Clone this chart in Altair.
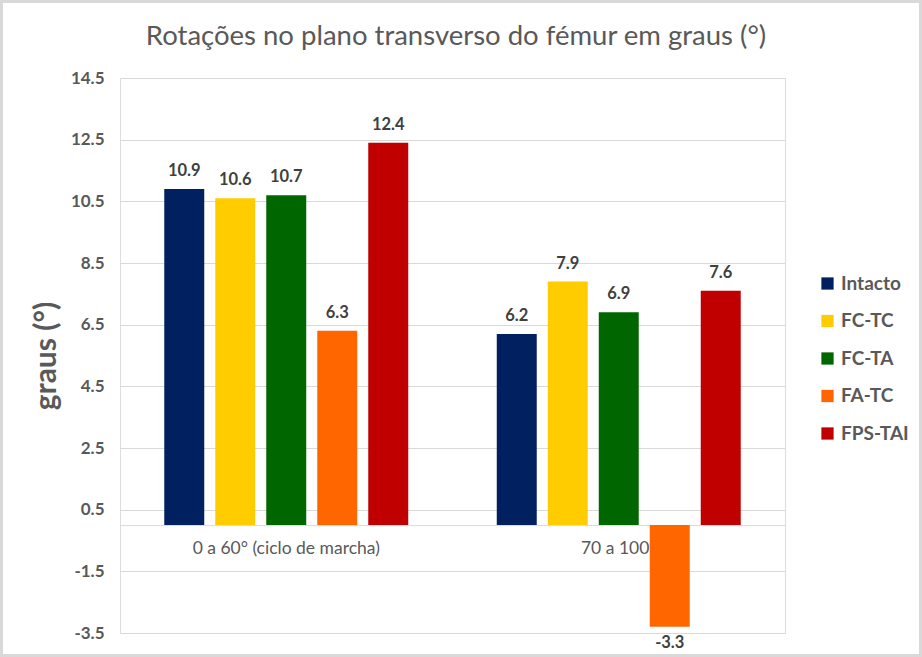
import altair as alt
import pandas as pd

categories = ["0 a 60° (ciclo de marcha)", "70 a 100°"]
series = ["Intacto", "FC-TC", "FC-TA", "FA-TC", "FPS-TAI"]
values_0_60 = [10.9, 10.6, 10.7, 6.3, 12.4]
values_70_100 = [6.2, 7.9, 6.9, -3.3, 7.6]
colors = ["#002060", "#FFCC00", "#006600", "#FF6600", "#C00000"]
y_ticks = [-3.5, -1.5, 0.5, 2.5, 4.5, 6.5, 8.5, 10.5, 12.5, 14.5]
title_text = "Rotações no plano transverso do fémur em graus (°)"

rows = []
for cat, vals in zip(categories, [values_0_60, values_70_100]):
    for s, v in zip(series, vals):
        rows.append({"categoria": cat, "serie": s, "valor": v})
df = pd.DataFrame(rows)

FONT = "Lato"
GRAY = "#595959"
minus_fix = "(datum.value < 0 ? '-' : '') + format(abs(datum.value), '.1f')"

x_enc = alt.X("categoria:N", sort=categories, title=None,
              scale=alt.Scale(paddingInner=0, paddingOuter=0),
              axis=alt.Axis(orient="bottom", offset=-107.9, labelAngle=0,
                            ticks=False, domainColor="#D9D9D9", domainWidth=1,
                            labelFontSize=17.5, labelColor=GRAY, labelFont=FONT,
                            labelPadding=14, grid=False, labelLimit=0,
                            labelOverlap=False))
xoff = alt.XOffset("serie:N", sort=series,
                   scale=alt.Scale(paddingInner=0.216, paddingOuter=0.868))
y_scale = alt.Scale(domain=[-3.5, 14.5], nice=False, zero=False)

base = alt.Chart(df).transform_calculate(
    rotulo="(datum.valor < 0 ? '-' : '') + format(abs(datum.valor), '.1f')"
)

bars = base.mark_bar().encode(
    x=x_enc,
    xOffset=xoff,
    y=alt.Y("valor:Q", scale=y_scale, title="graus (°)",
            axis=alt.Axis(values=y_ticks, labelExpr=minus_fix, domain=False, ticks=False,
                          gridColor="#D9D9D9", labelFontSize=17, labelFontWeight="bold",
                          labelColor=GRAY, labelFont=FONT, labelPadding=16,
                          titleFontSize=30, titleFontWeight="bold", titleColor=GRAY,
                          titleFont=FONT, titlePadding=9)),
    y2=alt.datum(0),
    color=alt.Color("serie:N", sort=series,
                    scale=alt.Scale(domain=series, range=colors),
                    legend=alt.Legend(title=None, orient="none", legendX=698, legendY=196,
                                      symbolType="square", symbolSize=150,
                                      symbolStrokeWidth=0, labelFontSize=19,
                                      labelFontWeight="bold", labelColor=GRAY,
                                      labelFont=FONT, rowPadding=17.5, labelOffset=4)),
)

pos_labels = base.transform_filter("datum.valor >= 0").mark_text(
    baseline="bottom", dy=-10, fontSize=16.5, fontWeight="bold", color="#404040", font=FONT
).encode(
    x=alt.X("categoria:N", sort=categories),
    xOffset=xoff,
    y=alt.Y("valor:Q", scale=y_scale),
    text="rotulo:N",
)

neg_labels = base.transform_filter("datum.valor < 0").mark_text(
    baseline="top", dy=8, fontSize=16.5, fontWeight="bold", color="#404040", font=FONT
).encode(
    x=alt.X("categoria:N", sort=categories),
    xOffset=xoff,
    y=alt.Y("valor:Q", scale=y_scale),
    text="rotulo:N",
)

one = pd.DataFrame({"t": [title_text]})

title_mark = alt.Chart(one).mark_text(
    fontSize=27.5, font=FONT, color=GRAY, baseline="middle", align="center"
).encode(
    x=alt.value(336), y=alt.value(-41), text="t:N"
)

frame = alt.Chart(one).mark_rect(
    fill="white", fillOpacity=0, stroke="#D9D9D9", strokeWidth=3
).encode(
    x=alt.value(-118.5), x2=alt.value(800.5), y=alt.value(-76.5), y2=alt.value(577.5)
)

chart = alt.layer(bars, pos_labels, neg_labels, title_mark, frame).properties(
    width=665, height=555,
    padding={"left": 120, "top": 78, "right": 137, "bottom": 24},
    autosize=alt.AutoSizeParams(type="none"),
).configure_view(stroke=None).configure(background="white")

chart.save("out.html", embed_options={"renderer": "svg", "actions": False})
